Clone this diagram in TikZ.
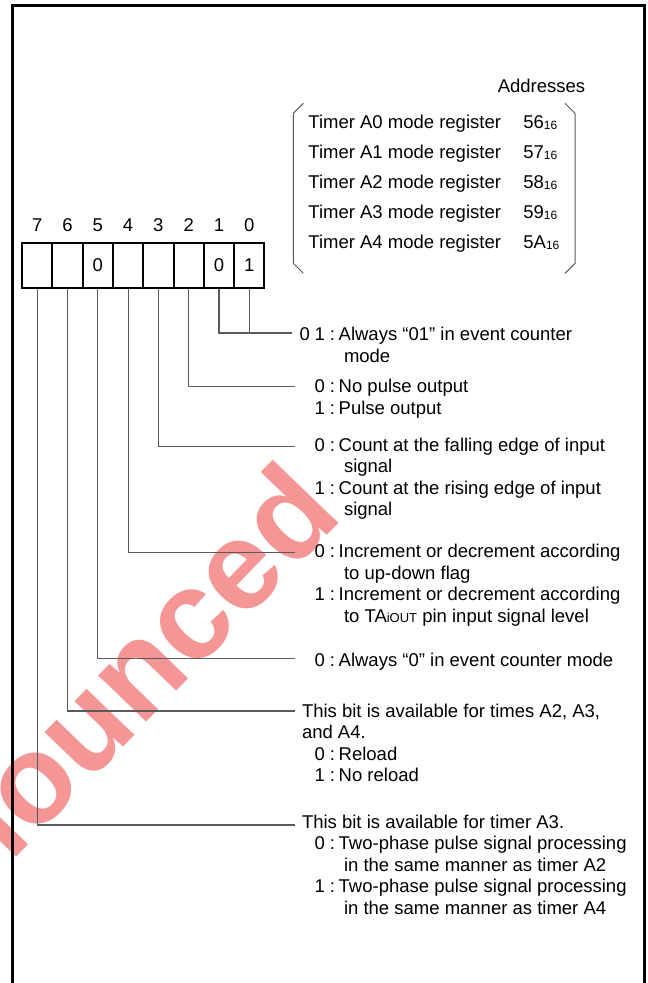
\documentclass[tikz,border=0pt]{standalone}
\usepackage{fontspec}
\setmainfont{Liberation Sans}
\usetikzlibrary{positioning}

\definecolor{stampred}{RGB}{245,150,150}
\definecolor{leadgray}{RGB}{90,90,90}

\newcommand{\regfont}{\fontsize{9.25}{10.75}\selectfont}
\newcommand{\sixteen}{\raisebox{-0.5pt}{\fontsize{6}{6}\selectfont 16}}
\newcommand{\setting}[2]{\makebox[11.4pt][r]{#1} :\hspace{1.8pt}#2}
\newcommand{\wrapline}[1]{\hspace*{21pt}#1}
\newcommand{\textlines}[1]{\begin{tabular}[t]{@{}l@{}}#1\end{tabular}}

\tikzset{
  bitbox/.style={draw, line width=1pt, minimum width=15.15pt, minimum height=22.5pt, inner sep=0pt},
  bitno/.style={inner sep=0pt},
  leader/.style={draw=leadgray, line width=0.55pt},
  desc/.style={anchor=base west, inner sep=0pt},
}

\begin{document}
\begin{tikzpicture}[x=0.5pt, y=-0.5pt, font=\regfont]
  \useasboundingbox (0,0) rectangle (647,983);

  % stamp behind everything
  \begin{scope}
    \clip (0,0) rectangle (647,983);
    \node[text=stampred, font=\fontsize{63}{63}\selectfont\bfseries, rotate=46, anchor=base east, inner sep=0pt] (stamp) at (345,517) {nounced};
  \end{scope}

  % frame
  \draw[line width=1.5pt] (12,995) -- (12,6) -- (644,6) -- (644,995);

  % address list
  \node[bitno] (addr) at (541.5,86) {Addresses};
  \foreach \i/\a in {0/56,1/57,2/58,3/59,4/5A} {
    \node[desc] (t\i) at (308,{128.6+30*\i}) {Timer A\i{} mode register};
    \node[desc] (a\i) at (523,{128.6+30*\i}) {\a\sixteen};
  }
  \draw[leadgray, line width=0.5pt] (303.3,103.3) -- (293.3,113.3) -- (293.3,263.3) -- (303.3,273.3);
  \draw[leadgray, line width=0.5pt] (565,103.3) -- (575,113.3) -- (575,263.3) -- (565,273.3);

  % register bits
  \foreach \b/\v in {7/,6/,5/0,4/,3/,2/,1/0,0/1}
    \node[bitbox] (b\b) at ({37.15+30.3*(7-\b)},265.5) {\v};
  \foreach \b in {0,...,7}
    \node[bitno, above=5pt of b\b] (n\b) {\b};

  % leader ends
  \coordinate (e10) at (292,333);
  \coordinate (e2) at (295,386.5);
  \coordinate (e3) at (295,446.5);
  \coordinate (e4) at (295,552.5);
  \coordinate (e5) at (295,658.5);
  \coordinate (e6) at (295,711);
  \coordinate (e7) at (295,825);

  \draw[leader] (b1.south) |- (e10);
  \draw[leader] (b0.south) -- (b0.south |- e10);
  \foreach \b in {2,...,7}
    \draw[leader] (b\b.south) |- (e\b);

  % bit descriptions
  \node[desc] (d10) at (301.6,340.6) {\textlines{\setting{0\hspace{2.3pt}1}{Always “01” in event counter}\\ \wrapline{mode}}};
  \node[desc] (d2) at (301.6,393) {\textlines{\setting{0}{No pulse output}\\ \setting{1}{Pulse output}}};
  \node[desc] (d3) at (301.6,451) {\textlines{\setting{0}{Count at the falling edge of input}\\ \wrapline{signal}\\
    \setting{1}{Count at the rising edge of input}\\ \wrapline{signal}}};
  \node[desc] (d4) at (301.6,557.5) {\textlines{\setting{0}{Increment or decrement according}\\ \wrapline{to up-down flag}\\
    \setting{1}{Increment or decrement according}\\ \wrapline{to TA{\fontsize{6.5}{7}\selectfont iOUT} pin input signal level}}};
  \node[desc] (d5) at (301.6,666) {\textlines{\setting{0}{Always “0” in event counter mode}}};
  \node[desc] (d6) at (301.6,717) {\textlines{This bit is available for times A2, A3,\\ and A4.\\
    \setting{0}{Reload}\\ \setting{1}{No reload}}};
  \node[desc] (d7) at (301.6,828) {\textlines{This bit is available for timer A3.\\
    \setting{0}{Two-phase pulse signal processing}\\ \wrapline{in the same manner as timer A2}\\
    \setting{1}{Two-phase pulse signal processing}\\ \wrapline{in the same manner as timer A4}}};
\end{tikzpicture}
\end{document}
